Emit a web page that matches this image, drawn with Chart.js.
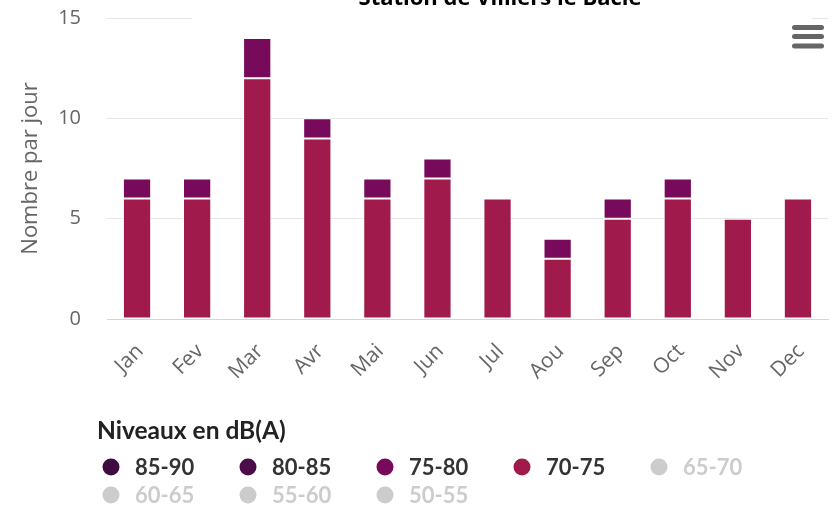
<!DOCTYPE html>
<html><head><meta charset="utf-8">
<script src="https://cdn.jsdelivr.net/npm/chart.js@4.4.0/dist/chart.umd.min.js"></script>
<style>html,body{margin:0;padding:0;background:#fff;overflow:hidden}
#wrap{position:relative;width:833px;height:505px;overflow:hidden}
#c{position:absolute;left:0;top:-20px}</style></head><body>
<div id="wrap"><canvas id="c" width="833" height="525"></canvas></div>
<script>
const chartTitle = 'Station de Villiers le Bâcle';
const yAxisTitle = 'Nombre par jour';
const legendTitle = 'Niveaux en dB(A)';
const months = ['Jan','Fev','Mar','Avr','Mai','Jun','Jul','Aou','Sep','Oct','Nov','Dec'];
const yTicks = [0, 5, 10, 15];
const levels = ['85-90','80-85','75-80','70-75','65-70','60-65','55-60','50-55'];
const levelColors = ['#3e0c40','#4a0d4a','#770a5a','#a01a4b','#7e1a4e','#b0306a','#c4467c','#d46a94'];
const levelHidden = [false,false,false,false,true,true,true,true];
const v85_90 = [null,null,null,null,null,null,null,null,null,null,null,null];
const v80_85 = [null,null,null,null,null,null,null,null,null,null,null,null];
const v75_80 = [1,1,2,1,1,1,null,1,1,1,null,null];
const v70_75 = [6,6,12,9,6,7,6,3,5,6,5,6];
const v65_70 = [];
const v60_65 = [];
const v55_60 = [];
const v50_55 = [];
const levelValues = [v85_90,v80_85,v75_80,v70_75,v65_70,v60_65,v55_60,v50_55];

const OY = 20; // canvas is shifted up by this much
const FONT = 'Lato';
const AXFONT = 'Open Sans';
const datasets = levels.map((lv, i) => ({
  label: lv,
  data: levelValues[i],
  backgroundColor: levelColors[i],
  borderColor: '#ffffff',
  borderWidth: 1,
  borderSkipped: false,
  hidden: levelHidden[i],
  barPercentage: 0.47,
  categoryPercentage: 1
})).reverse();

const decoPlugin = {
  id: 'deco',
  beforeDatasetsDraw(chart) {
    const ctx = chart.ctx;
    ctx.save();
    ctx.fillStyle = '#ffffff';
    ctx.fillRect(192, 0, 620, 24 + OY);
    ctx.restore();
  },
  afterDraw(chart) {
    const ctx = chart.ctx;
    ctx.save();
    ctx.font = 'bold 22px "Open Sans"';
    ctx.fillStyle = '#000000';
    ctx.textAlign = 'center';
    ctx.textBaseline = 'alphabetic';
    ctx.fillText(chartTitle, 500, 5 + OY);
    ctx.fillStyle = '#666666';
    [27.5, 36.5, 46].forEach(y => {
      ctx.beginPath();
      ctx.roundRect(792, y - 2.5 + OY, 32, 5, 2.5);
      ctx.fill();
    });
    ctx.textAlign = 'left';
    ctx.font = 'bold 24.5px ' + FONT;
    ctx.fillStyle = '#222222';
    ctx.fillText(legendTitle, 97, 439 + OY);
    ctx.font = 'bold 22px ' + FONT;
    levels.forEach((lv, i) => {
      const col = i % 5, row = Math.floor(i / 5);
      const cx = 111 + col * 137, cy = 467 + row * 28 + OY;
      ctx.fillStyle = levelHidden[i] ? '#cccccc' : levelColors[i];
      ctx.beginPath();
      ctx.arc(cx, cy, 8.5, 0, Math.PI * 2);
      ctx.fill();
      ctx.fillStyle = levelHidden[i] ? '#cccccc' : '#333333';
      ctx.fillText(lv, cx + 24, cy + 8);
    });
    ctx.restore();
  }
};

new Chart(document.getElementById('c'), {
  type: 'bar',
  data: { labels: months, datasets },
  plugins: [decoPlugin],
  options: {
    responsive: false,
    animation: false,
    devicePixelRatio: 1,
    layout: { padding: { top: 0, right: 5, left: 0, bottom: 0 } },
    plugins: { legend: { display: false }, tooltip: { enabled: false }, title: { display: false } },
    scales: {
      x: {
        stacked: true,
        grid: { display: false },
        border: { display: true, color: '#ccd6eb', width: 1 },
        ticks: {
          color: '#666666', font: { family: AXFONT, size: 21 },
          minRotation: 45, maxRotation: 45, autoSkip: false, padding: 12, labelOffset: 3
        },
        afterFit: s => { s.height = 186; }
      },
      y: {
        stacked: true,
        min: 0, max: 15,
        afterBuildTicks: s => { s.ticks = yTicks.map(v => ({ value: v })); },
        ticks: { color: '#666666', font: { family: AXFONT, size: 20 }, padding: 26 },
        grid: { color: ctx => ctx.tick && ctx.tick.value === 0 ? '#ccd6eb' : '#e6e6e6', drawTicks: false },
        border: { display: false },
        title: { display: true, text: yAxisTitle, color: '#666666', font: { family: AXFONT, size: 22 }, padding: { top: 18, bottom: 0 } },
        afterFit: s => { s.width = 107; }
      }
    }
  }
});
</script></body></html>
